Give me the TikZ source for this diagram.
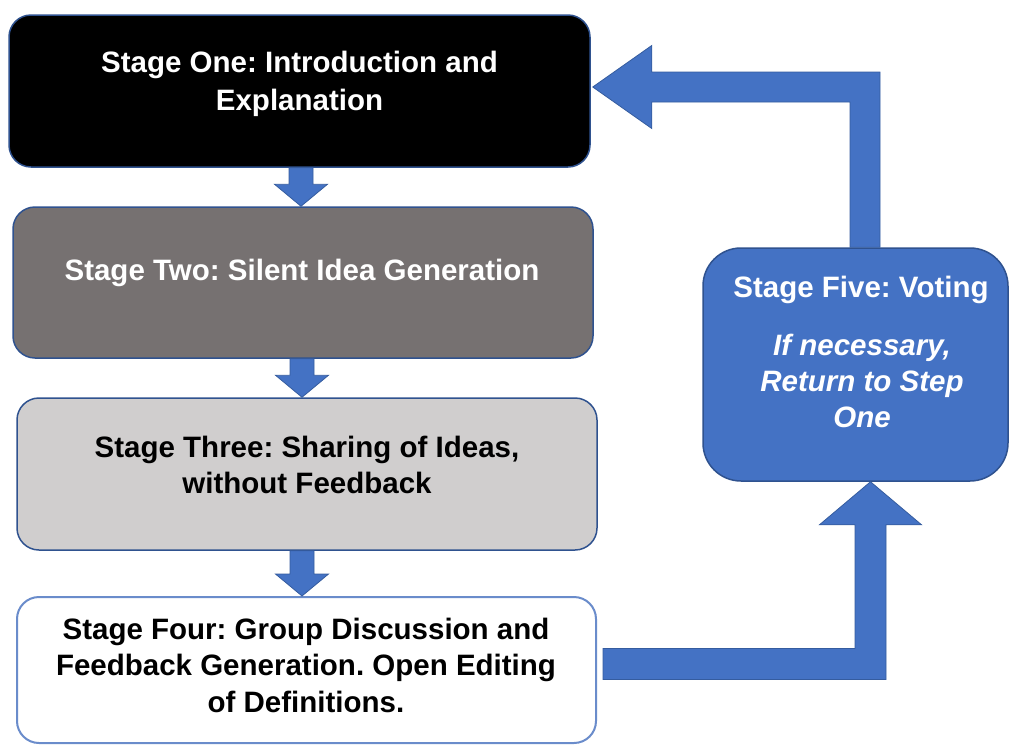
\documentclass[tikz,border=0pt]{standalone}
\usepackage{fontspec}
\setmainfont{Liberation Sans}
\usetikzlibrary{calc}
\frenchspacing
\definecolor{accent}{HTML}{4472C4}
\definecolor{edgeblue}{HTML}{2F528F}
\definecolor{boxgray}{HTML}{767171}
\definecolor{boxlight}{HTML}{D0CECE}
\definecolor{lightedge}{HTML}{6A8CCB}

\tikzset{
  stagebox/.style={draw=edgeblue, line width=1.5pt, rounded corners=22pt,
    inner sep=0pt},
  stagetext/.style={align=center, font=\fontsize{29.5}{36.5}\selectfont\bfseries,
    inner sep=0pt},
  arrowfill/.style={fill=accent, draw=edgeblue!70!accent, line width=0.8pt,
    line join=miter},
}

% short block arrow pointing straight down, x taken from #1, tip at #2
\newcommand{\blockdown}[2]{%
  \filldraw[arrowfill] let \p1=(#1), \p2=(#2) in
    (\x1-12pt,\y1) -- (\x1+12pt,\y1) -- (\x1+12pt,\y2+22pt)
    -- (\x1+26.5pt,\y2+22pt) -- (\x1,\y2) -- (\x1-26.5pt,\y2+22pt)
    -- (\x1-12pt,\y2+22pt) -- cycle;}

\begin{document}
\begin{tikzpicture}[x=1pt, y=-1pt]
\useasboundingbox (0,0) rectangle (1010,745);

% stage boxes
\node[stagebox, fill=black, minimum width=581pt, minimum height=152pt]
  (s1) at (299.5,91) {};
\node[stagebox, fill=boxgray, minimum width=580pt, minimum height=151pt]
  (s2) at (303,282.5) {};
\node[stagebox, fill=boxlight, minimum width=580pt, minimum height=152pt]
  (s3) at (307,474) {};
\node[stagebox, draw=lightedge, line width=2pt, fill=white,
  minimum width=579pt, minimum height=146pt] (s4) at (306.5,670) {};
\node[stagebox, fill=accent, rounded corners=38pt,
  minimum width=305pt, minimum height=233pt] (s5) at (855.5,364.5) {};

% box texts
\node[stagetext, text=white, font=\fontsize{29.5}{38}\selectfont\bfseries]
  (t1) at (299.5,83.5) {Stage One: Introduction and\\Explanation};
\node[stagetext, text=white] (t2) at (302,273)
  {Stage Two: Silent Idea Generation};
\node[stagetext, text=black] (t3) at (307,465)
  {Stage Three: Sharing of Ideas,\\without Feedback};
\node[stagetext, text=black] (t4) at (306,665)
  {Stage Four: Group Discussion and\\Feedback Generation. Open Editing\\of Definitions.};
\node[stagetext, text=white] (t5a) at (861,290) {Stage Five: Voting};
\node[stagetext, text=white, font=\fontsize{29.5}{36}\selectfont\bfseries\itshape]
  (t5b) at (862,380.5) {If necessary,\\Return to Step\\One};

% downward connectors
\blockdown{$(s1.south)+(1.5,0)$}{s2.north}
\blockdown{$(s2.south)+(-1,0)$}{s3.north}
\blockdown{$(s3.south)+(-5,0)$}{s4.north}

% return loop: Stage Five back to Stage One
\filldraw[arrowfill] let \p1=(s5.north), \p2=(s1.east),
    \n1={\x1+9.5pt}, \n2={\y2+4pt} in
  (\n1-15pt,\y1) -- (\n1+15pt,\y1) -- (\n1+15pt,\n2+15pt)
  -- (\x2+61pt,\n2+15pt) -- (\x2+61pt,\n2+41.5pt) -- (\x2+2pt,\n2)
  -- (\x2+61pt,\n2-41.5pt) -- (\x2+61pt,\n2-15pt) -- (\n1-15pt,\n2-15pt) -- cycle;

% Stage Four on to Stage Five
\filldraw[arrowfill] let \p1=(s4.east), \p2=(s5.south),
    \n1={\x2+15pt}, \n2={\y1+6pt} in
  (\x1+6pt,\n2+15.5pt) -- (\n1-15.5pt,\n2+15.5pt) -- (\n1-15.5pt,\y2-43pt)
  -- (\n1-51pt,\y2-43pt) -- (\n1,\y2) -- (\n1+51pt,\y2-43pt)
  -- (\n1+15.5pt,\y2-43pt) -- (\n1+15.5pt,\n2-15.5pt) -- (\x1+6pt,\n2-15.5pt) -- cycle;

\end{tikzpicture}
\end{document}
